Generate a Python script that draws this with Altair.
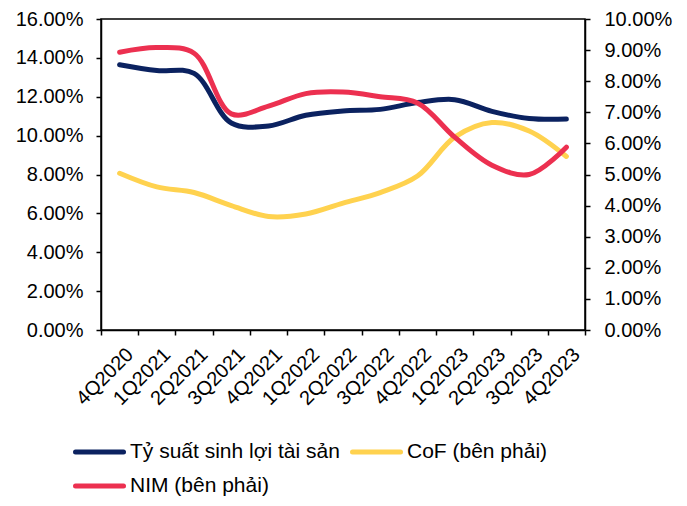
import altair as alt
import pandas as pd

quarters = ["4Q2020", "1Q2021", "2Q2021", "3Q2021", "4Q2021", "1Q2022", "2Q2022",
            "3Q2022", "4Q2022", "1Q2023", "2Q2023", "3Q2023", "4Q2023"]
roa = [13.65, 13.35, 13.2, 10.65, 10.5, 11.05, 11.27, 11.35, 11.7, 11.85, 11.25, 10.88, 10.85]
cof = [5.04, 4.6, 4.42, 4.0, 3.65, 3.73, 4.08, 4.42, 4.95, 6.2, 6.67, 6.4, 5.58]
nim = [8.93, 9.08, 8.9, 6.95, 7.2, 7.6, 7.65, 7.5, 7.3, 6.2, 5.3, 5.0, 5.88]

s_roa = "Tỷ suất sinh lợi tài sản"
s_cof = "CoF (bên phải)"
s_nim = "NIM (bên phải)"
series = [s_roa, s_cof, s_nim]
colors = ["#0B2260", "#FFD24F", "#EC3050"]

rows = []
for name, vals in zip(series, [roa, cof, nim]):
    for q, v in zip(quarters, vals):
        rows.append({"q": q, "v": v / 100, "s": name})
df = pd.DataFrame(rows)

FONT = "Liberation Sans"

x_enc = alt.X("q:N", sort=quarters,
              scale=alt.Scale(type="band", paddingInner=0, paddingOuter=0),
              axis=alt.Axis(title=None, labelAngle=-45, tickBand="extent", labelPadding=9,
                            labelOffset=3, labelOverlap=False))
color_enc = alt.Color("s:N", scale=alt.Scale(domain=series, range=colors), legend=None)

base = alt.Chart(df)
left = base.transform_filter(alt.datum.s == s_roa).mark_line(
    strokeWidth=5, interpolate="catmull-rom", strokeCap="round").encode(
    x=x_enc,
    y=alt.Y("v:Q", scale=alt.Scale(domain=[0, 0.16], nice=False),
            axis=alt.Axis(title=None, format=".2%", values=[i * 0.02 for i in range(9)],
                          orient="left", labelPadding=13)),
    color=color_enc,
)
right = base.transform_filter(alt.datum.s != s_roa).mark_line(
    strokeWidth=5, interpolate="catmull-rom", strokeCap="round").encode(
    x=x_enc,
    y=alt.Y("v:Q", scale=alt.Scale(domain=[0, 0.10], nice=False),
            axis=alt.Axis(title=None, format=".2%", values=[i * 0.01 for i in range(11)],
                          orient="right", labelPadding=14)),
    color=color_enc,
    detail="s:N",
)

# custom legend (positions in pixels relative to the plot area)
legend_pos = [(-28, 433), (249, 433), (-28, 467)]
legend_layers = []
for name, col, (lx, ly) in zip(series, colors, legend_pos):
    ldf = pd.DataFrame({"s": [name]})
    legend_layers.append(alt.Chart(ldf).mark_rule(strokeWidth=5, strokeCap="round").encode(
        x=alt.value(lx + 2.5), x2=alt.value(lx + 50.5), y=alt.value(ly), color=alt.value(col)))
    legend_layers.append(alt.Chart(ldf).mark_text(
        align="left", baseline="middle", fontSize=21, font=FONT, color="black").encode(
        x=alt.value(lx + 57), y=alt.value(ly), text="s:N"))

chart = alt.layer(left, right, *legend_layers).resolve_scale(y="independent").properties(
    width=484, height=311,
    autosize=alt.AutoSizeParams(type="none"),
    padding={"left": 93, "top": 11, "right": 94, "bottom": 168},
).configure_view(stroke="black", strokeWidth=1.5).configure_axis(
    grid=False, domainColor="black", domainWidth=1.5, tickColor="black", tickWidth=1.5,
    tickSize=5, labelColor="black", labelFont=FONT, labelFontSize=20,
)

chart.save("out.html", embed_options={"renderer": "svg", "actions": False})
